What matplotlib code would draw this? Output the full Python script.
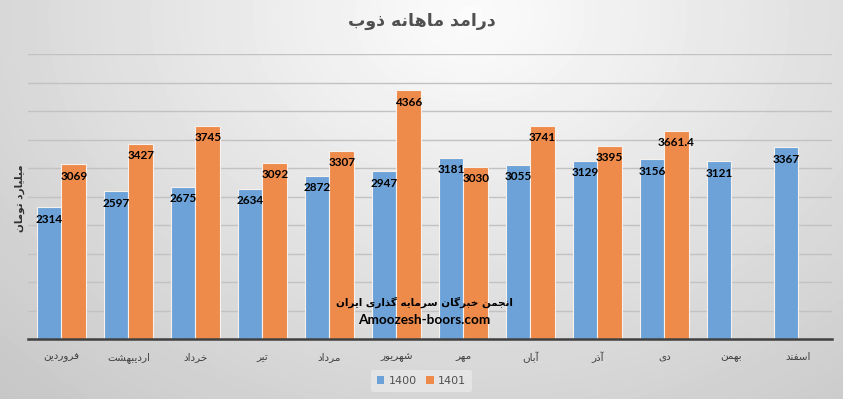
import numpy as np
import matplotlib
matplotlib.use("Agg")
import matplotlib.pyplot as plt
from matplotlib.patches import Patch

months = ["فروردین", "اردیبهشت", "خرداد", "تیر", "مرداد", "شهریور",
          "مهر", "آبان", "آذر", "دی", "بهمن", "اسفند"]
values_1400 = [2314, 2597, 2675, 2634, 2872, 2947, 3181, 3055, 3129, 3156, 3121, 3367]
values_1401 = [3069, 3427, 3745, 3092, 3307, 4366, 3030, 3741, 3395, 3661.4, None, None]
series_names = ["1400", "1401"]
title = "درامد ماهانه ذوب"
y_title = "میلیارد تومان"
watermark = "انجمن خبرگان سرمایه گذاری ایران"
watermark_site = "Amoozesh-boors.com"

# matplotlib does no arabic shaping, so pick the joined glyph forms by hand
# (isolated, final, initial, medial)
FORMS = {
    "ا": (0xFE8D, 0xFE8E, None, None),
    "آ": (0xFE81, 0xFE82, None, None),
    "د": (0xFEA9, 0xFEAA, None, None),
    "ذ": (0xFEAB, 0xFEAC, None, None),
    "ر": (0xFEAD, 0xFEAE, None, None),
    "ز": (0xFEAF, 0xFEB0, None, None),
    "و": (0xFEED, 0xFEEE, None, None),
    "ب": (0xFE8F, 0xFE90, 0xFE91, 0xFE92),
    "ت": (0xFE95, 0xFE96, 0xFE97, 0xFE98),
    "ج": (0xFE9D, 0xFE9E, 0xFE9F, 0xFEA0),
    "خ": (0xFEA5, 0xFEA6, 0xFEA7, 0xFEA8),
    "س": (0xFEB1, 0xFEB2, 0xFEB3, 0xFEB4),
    "ش": (0xFEB5, 0xFEB6, 0xFEB7, 0xFEB8),
    "ف": (0xFED1, 0xFED2, 0xFED3, 0xFED4),
    "ل": (0xFEDD, 0xFEDE, 0xFEDF, 0xFEE0),
    "م": (0xFEE1, 0xFEE2, 0xFEE3, 0xFEE4),
    "ن": (0xFEE5, 0xFEE6, 0xFEE7, 0xFEE8),
    "ه": (0xFEE9, 0xFEEA, 0xFEEB, 0xFEEC),
    "ی": (0xFBFC, 0xFBFD, 0xFBFE, 0xFBFF),
    "گ": (0xFB92, 0xFB93, 0xFB94, 0xFB95),
}


def fa(text):
    out = []
    for i, ch in enumerate(text):
        if ch not in FORMS:
            out.append(ch)
            continue
        iso, fin, ini, med = FORMS[ch]
        prev = text[i - 1] if i > 0 else ""
        nxt = text[i + 1] if i + 1 < len(text) else ""
        join_prev = prev in FORMS and FORMS[prev][2] is not None
        join_next = ini is not None and nxt in FORMS
        if join_prev and join_next:
            code = med
        elif join_prev:
            code = fin
        elif join_next:
            code = ini
        else:
            code = iso
        out.append(chr(code))
    return "".join(reversed(out))


fig = plt.figure(figsize=(8.43, 3.99), dpi=100)

# radial grey background, light near the title
bg = fig.add_axes([0, 0, 1, 1], zorder=-10)
yy, xx = np.mgrid[0:399, 0:843]
d = np.sqrt((xx - 470) ** 2 + ((yy - 15) * 1.3) ** 2)
g = np.clip(252 - 0.078 * d, 0, 255) / 255
bg.imshow(g, cmap="gray", vmin=0, vmax=1, aspect="auto", interpolation="bilinear")
bg.axis("off")

ax = fig.add_axes([0.0332, 0.1496, 0.9534, 0.7143])
ax.set_facecolor("none")

blue = "#6CA2D8"
orange = "#EE8B4B"
w = 0.368
x = np.arange(len(months))

for i in range(len(months)):
    for k, (vals, color) in enumerate([(values_1400, blue), (values_1401, orange)]):
        v = vals[i]
        if v is None:
            continue
        xc = x[i] + (k - 0.5) * w
        ax.bar(xc, v, width=w, color=color, edgecolor="#f6f1ec", linewidth=0.8, zorder=3)
        ax.annotate(f"{v:g}", (xc, v), xytext=(0, -4.5), textcoords="offset points",
                    ha="center", va="top", fontsize=8.5, fontweight="bold",
                    family="Lato", color="black", zorder=5)

ax.set_xlim(-0.5, len(months) - 0.5)
ax.set_ylim(0, 5000)
ax.set_yticks(np.arange(500, 5001, 500))
ax.yaxis.grid(True, color="#c2c2c2", linewidth=1, zorder=0)
ax.tick_params(axis="y", length=0, labelleft=False)
ax.set_xticks(x)
ax.set_xticklabels([fa(m) for m in months], fontsize=7.5, color="#404040")
ax.tick_params(axis="x", length=0, pad=9)
for s in ["top", "right", "left"]:
    ax.spines[s].set_visible(False)
ax.spines["bottom"].set_color("#404040")
ax.spines["bottom"].set_linewidth(1.8)
ax.spines["bottom"].set_zorder(4)

fig.text(0.5, 0.948, fa(title), ha="center", va="center", fontsize=12.5,
         fontweight="bold", color="#505050")
fig.text(0.024, 0.504, fa(y_title), rotation=90, ha="center", va="center",
         fontsize=7.5, fontweight="bold", color="#303030")

fig.text(0.503, 0.243, fa(watermark), ha="center", va="center", fontsize=7.5,
         fontweight="bold", color="black", zorder=6)
fig.text(0.503, 0.198, watermark_site, ha="center", va="center", fontsize=9.8,
         fontweight="bold", family="Lato", color="black", zorder=6)

handles = [Patch(facecolor=blue, label=series_names[0]),
           Patch(facecolor=orange, label=series_names[1])]
leg = fig.legend(handles=handles, loc="center", bbox_to_anchor=(0.5, 0.045), ncol=2,
                 frameon=True, fontsize=8, handlelength=0.7, handleheight=0.7,
                 handletextpad=0.4, columnspacing=0.8, borderpad=0.5)
leg.get_frame().set_facecolor("white")
leg.get_frame().set_alpha(0.35)
leg.get_frame().set_edgecolor("none")
for t in leg.get_texts():
    t.set_color("#505050")

fig.savefig("out.png", dpi=100)
